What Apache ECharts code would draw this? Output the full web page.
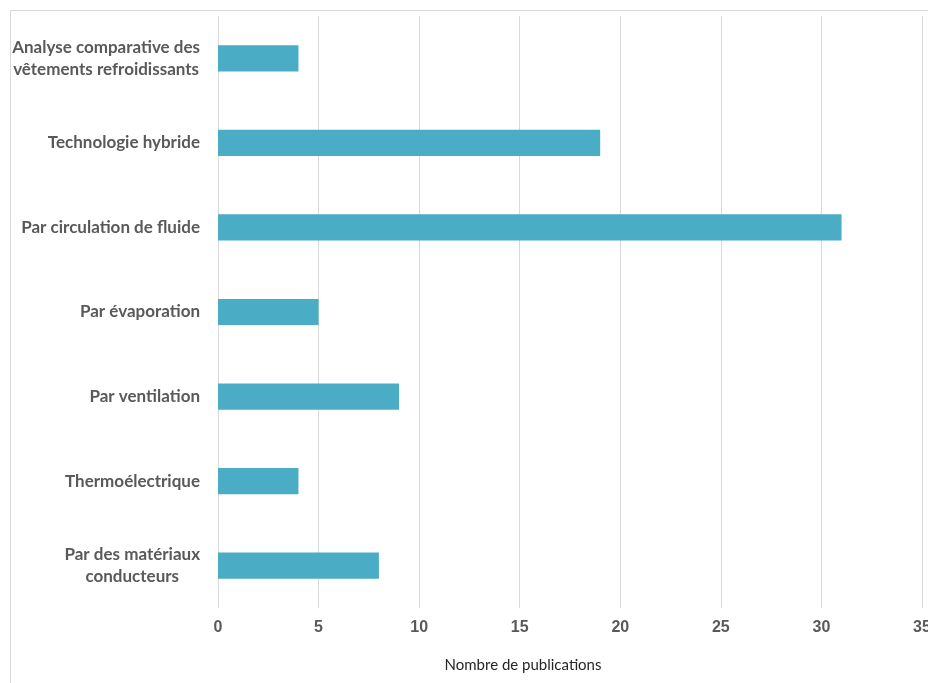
<!DOCTYPE html>
<html>
<head>
<meta charset="utf-8">
<script src="https://cdn.jsdelivr.net/npm/echarts@6/dist/echarts.min.js"></script>
<style>
html,body{margin:0;padding:0;background:#fff;}
#chart{width:928px;height:683px;}
</style>
</head>
<body>
<div id="chart"></div>
<script>
const categories = [
  "Analyse comparative des\nvêtements refroidissants",
  "Technologie hybride",
  "Par circulation de fluide",
  "Par évaporation",
  "Par ventilation",
  "Thermoélectrique",
  "Par des matériaux\nconducteurs"
];
const publications = [4, 19, 31, 5, 9, 4, 8];
const xTicks = [0, 5, 10, 15, 20, 25, 30, 35];
const xAxisTitle = "Nombre de publications";

const chart = echarts.init(document.getElementById('chart'));
chart.setOption({
  backgroundColor: '#ffffff',
  animation: false,
  graphic: [{
    type: 'polyline',
    shape: { points: [[10.5, 683], [10.5, 10.5], [928, 10.5]] },
    style: { stroke: '#d9d9d9', lineWidth: 1, fill: null },
    silent: true
  }],
  grid: { left: 218, right: 6, top: 16, bottom: 75, containLabel: false, outerBoundsMode: 'none' },
  xAxis: {
    type: 'value',
    min: xTicks[0],
    max: xTicks[xTicks.length - 1],
    interval: xTicks[1] - xTicks[0],
    name: xAxisTitle,
    nameLocation: 'middle',
    nameGap: 50,
    nameTextStyle: { fontFamily: 'Lato', fontSize: 15, color: '#262626', padding: [0, 94, 0, 0] },
    axisLine: { show: false },
    axisTick: { show: false },
    axisLabel: { fontFamily: 'Liberation Sans', fontWeight: 'bold', fontSize: 16, color: '#595959', margin: 12 },
    splitLine: { show: true, lineStyle: { color: '#d9d9d9', width: 1 } }
  },
  yAxis: {
    type: 'category',
    data: categories,
    inverse: true,
    axisLine: { show: false },
    axisTick: { show: false },
    axisLabel: {
      margin: 18,
      formatter: function (v) { return v.split('\n').map(s => '{a|' + s + '}').join('\n'); },
      rich: {
        a: { fontFamily: 'Lato', fontWeight: 'bold', fontSize: 17, color: '#595959', align: 'center', lineHeight: 22 }
      }
    }
  },
  series: [{
    type: 'bar',
    data: publications,
    barWidth: '31%',
    itemStyle: { color: '#4aacc5' }
  }]
});
</script>
</body>
</html>
